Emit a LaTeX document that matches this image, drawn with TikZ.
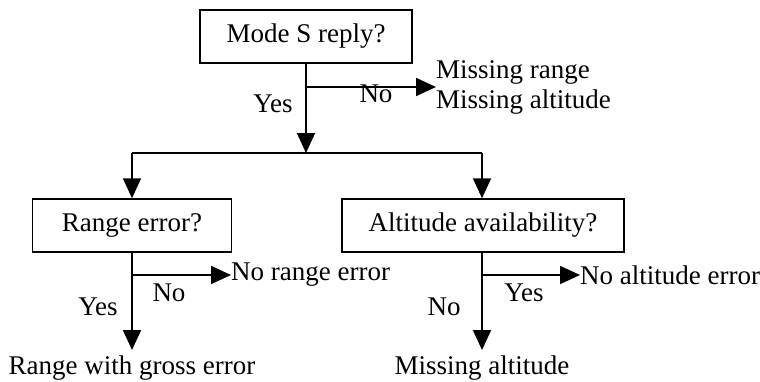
\documentclass[tikz,border=0pt]{standalone}
\usepackage{fontspec}
\setmainfont{Liberation Serif}
\usetikzlibrary{arrows.meta}
\begin{document}
\begin{tikzpicture}[x=1pt,y=-1pt,
  every node/.style={font=\fontsize{27}{30}\selectfont, inner sep=0pt},
  box/.style={draw, line width=1.5pt, minimum height=53pt, anchor=center},
  line/.style={line width=1.8pt},
  arr/.style={line width=1.8pt, -{Triangle[length=20pt,width=18pt]}}]
\useasboundingbox (0,0) rectangle (760,381);
% boxes
\node[box, minimum width=212pt] (mode) at (306,36.5) {Mode S reply?};
\node[box, minimum width=199pt] (range) at (132,225.5) {Range error?};
\node[box, minimum width=282pt] (alt) at (483,225.5) {Altitude availability?};
% top branch
\coordinate (j1) at (306,87);
\coordinate (j2) at (306,153);
\coordinate (j2l) at (132,153);
\coordinate (j2r) at (482,153);
\node[anchor=west, align=left] (miss) at (436,87) {Missing range\\Missing altitude};
\draw[line] (mode.south) -- (j1);
\draw[arr] (j1) -- (j2);
\draw[arr] (j1) -- (miss.west);
\node (no1) at (376,94) {No};
\node (yes1) at (273,104) {Yes};
\draw[line] (j2l) -- (j2r);
\draw[arr] (j2l) -- (range.north);
\draw[arr] (j2r) -- (alt.north -| j2r);
% left branch
\coordinate (j3) at (132,275);
\coordinate (t3) at (132,350);
\node[anchor=west] (norange) at (231,275) {No range error};
\node[anchor=base] (gross) at (132,374) {Range with gross error};
\draw[line] (range.south) -- (j3);
\draw[arr] (j3) -- (norange.west);
\draw[arr] (j3) -- (t3);
\node (no2) at (169,293) {No};
\node (yes2) at (98,307) {Yes};
% right branch
\coordinate (j4) at (482,275);
\coordinate (t4) at (482,350);
\node[anchor=west] (noalt) at (580,275) {No altitude error};
\node[anchor=base] (missalt) at (482,374) {Missing altitude};
\draw[line] (alt.south -| j4) -- (j4);
\draw[arr] (j4) -- (noalt.west);
\draw[arr] (j4) -- (t4);
\node (yes3) at (524,293) {Yes};
\node (no3) at (444,307) {No};
\end{tikzpicture}
\end{document}
